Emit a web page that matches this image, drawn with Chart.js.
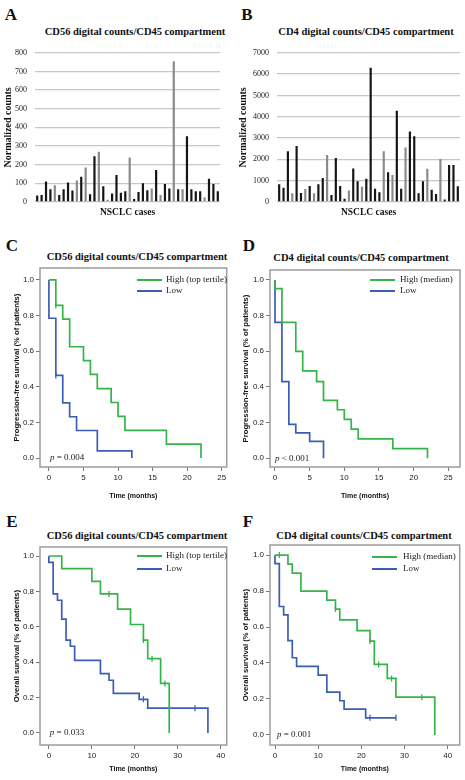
<!DOCTYPE html>
<html>
<head>
<meta charset="utf-8">
<script src="https://cdn.jsdelivr.net/npm/chart.js@4.4.1/dist/chart.umd.min.js"></script>
<style>
  html, body { margin: 0; padding: 0; background: #fff; }
  #fig { position: relative; width: 465px; height: 780px; overflow: hidden; background: #fff; }
  #fig canvas { position: absolute; }
  .lbl { position: absolute; transform: translate(-50%, -50%); white-space: nowrap; line-height: 1;
         color: #111; font-family: "Liberation Serif", "Times New Roman", serif; font-weight: bold; }
  .letter { font-size: 17px; }
  .ttl { font-size: 10.5px; }
</style>
</head>
<body>
<div id="fig">
  <div class="lbl letter" style="left:11px;top:14px">A</div>
  <div class="lbl letter" style="left:247px;top:14px">B</div>
  <div class="lbl letter" style="left:12px;top:245px">C</div>
  <div class="lbl letter" style="left:249px;top:245px">D</div>
  <div class="lbl letter" style="left:12px;top:521px">E</div>
  <div class="lbl letter" style="left:248px;top:521px">F</div>

  <div class="lbl ttl" style="left:135px;top:32px">CD56 digital counts/CD45 compartment</div>
  <div class="lbl ttl" style="left:366px;top:32px">CD4 digital counts/CD45 compartment</div>
  <div class="lbl ttl" style="left:137px;top:257px">CD56 digital counts/CD45 compartment</div>
  <div class="lbl ttl" style="left:361px;top:258px">CD4 digital counts/CD45 compartment</div>
  <div class="lbl ttl" style="left:137px;top:536px">CD56 digital counts/CD45 compartment</div>
  <div class="lbl ttl" style="left:364px;top:536px">CD4 digital counts/CD45 compartment</div>

  <canvas id="chartA" width="230" height="180" style="left:0;top:40px"></canvas>
  <canvas id="chartB" width="233" height="180" style="left:232px;top:40px"></canvas>
  <canvas id="chartC" width="232" height="255" style="left:0;top:248px"></canvas>
  <canvas id="chartD" width="233" height="255" style="left:232px;top:248px"></canvas>
  <canvas id="chartE" width="232" height="254" style="left:0;top:526px"></canvas>
  <canvas id="chartF" width="233" height="254" style="left:232px;top:526px"></canvas>
</div>

<script>
// ---- bar panels (A, B): normalized counts per NSCLC case ----
var caseLabels = [];
for (var i = 1; i <= 42; i++) caseLabels.push('Case ' + i);

var cd56Counts = [35, 38, 110, 68, 90, 38, 68, 105, 62, 115, 135, 185, 42, 245, 270, 85, 12, 45, 145, 50,
                  58, 238, 16, 53, 100, 63, 72, 172, 38, 97, 72, 755, 68, 68, 352, 68, 57, 57, 25, 125, 97, 57];
var cd4Counts = [830, 665, 2380, 415, 2630, 420, 610, 745, 410, 835, 1130, 2210, 325, 2070, 745, 155, 540, 1570, 970, 710,
                 1090, 6300, 625, 455, 2380, 1395, 1265, 4280, 625, 2555, 3310, 3085, 410, 975, 1560, 580, 370, 2020, 115, 1740, 1740, 740];
var cd56Ticks = [0, 100, 200, 300, 400, 500, 600, 700, 800];
var cd4Ticks = [0, 1000, 2000, 3000, 4000, 5000, 6000, 7000];
// bars printed in lighter grey in the original
var cd56GreyBars = [4, 9, 11, 14, 16, 21, 26, 28, 31, 33, 38];
var cd4GreyBars = [3, 6, 8, 11, 16, 19, 24, 26, 29, 34, 37];

// ---- Kaplan-Meier panels: event times (months) and survival fraction ----
var timeTicksPfs = [0, 5, 10, 15, 20, 25];
var timeTicksOs = [0, 10, 20, 30, 40];
var survTicks = [0, 0.2, 0.4, 0.6, 0.8, 1.0];

// C: PFS, CD56
var pfsCd56HighT = [0, 1, 2, 3, 5, 6, 7, 9, 10, 11, 17, 22];
var pfsCd56HighS = [1, 0.857, 0.78, 0.625, 0.547, 0.47, 0.39, 0.312, 0.234, 0.156, 0.078, 0];
var pfsCd56LowT = [0, 0, 1, 2, 3, 4, 7, 12];
var pfsCd56LowS = [1, 0.785, 0.464, 0.31, 0.232, 0.155, 0.04, 0];
var pfsCd56HighCensT = [1], pfsCd56HighCensS = [0.857];
var pfsCd56LowCensT = [1], pfsCd56LowCensS = [0.464];

// D: PFS, CD4
var pfsCd4HighT = [0, 0, 1, 3, 4, 6, 7, 9, 10, 11, 12, 17, 22];
var pfsCd4HighS = [1, 0.952, 0.762, 0.6, 0.49, 0.43, 0.325, 0.272, 0.218, 0.163, 0.109, 0.054, 0];
var pfsCd4LowT = [0, 0, 1, 2, 3, 5, 7];
var pfsCd4LowS = [1, 0.762, 0.43, 0.19, 0.142, 0.095, 0];

// E: OS, CD56
var osCd56HighT = [0, 3, 10, 12, 16, 19, 22, 23, 26, 28];
var osCd56HighS = [1, 0.929, 0.857, 0.786, 0.7, 0.613, 0.525, 0.42, 0.28, 0];
var osCd56LowT = [0, 0, 1, 2, 3, 4, 5, 6, 12, 14, 15, 21, 23, 37];
var osCd56LowS = [1, 0.964, 0.786, 0.75, 0.643, 0.525, 0.49, 0.41, 0.335, 0.298, 0.224, 0.19, 0.14, 0];
var osCd56HighCensT = [14, 22, 24, 27], osCd56HighCensS = [0.786, 0.525, 0.42, 0.28];
var osCd56LowCensT = [22, 34], osCd56LowCensS = [0.19, 0.14];

// F: OS, CD4
var osCd4HighT = [0, 3, 4, 6, 12, 14, 15, 19, 22, 23, 26, 28, 37];
var osCd4HighS = [1, 0.95, 0.9, 0.8, 0.75, 0.7, 0.64, 0.58, 0.522, 0.392, 0.314, 0.21, 0];
var osCd4LowT = [0, 0, 1, 2, 3, 4, 5, 10, 12, 15, 16, 21, 28];
var osCd4LowS = [1, 0.952, 0.714, 0.667, 0.524, 0.429, 0.381, 0.333, 0.238, 0.19, 0.143, 0.095, 0.095];
var osCd4HighCensT = [1, 14, 22, 24, 27, 34], osCd4HighCensS = [1, 0.7, 0.522, 0.392, 0.314, 0.21];
var osCd4LowCensT = [22, 28], osCd4LowCensS = [0.095, 0.095];

// ---- styles ----
var SERIF = '"Liberation Serif", "Times New Roman", serif';
var SANS = '"Liberation Sans Narrow", "Liberation Sans", Arial, sans-serif';
var GREEN = '#35b44a';
var BLUE = '#3c5db4';
var DARK_BAR = '#151515';
var GREY_BAR = '#8a8a8a';

function pts(t, s) {
    return t.map(function(v, i) { return { x: v, y: s[i] }; });
}

function barChart(id, values, greyBars, ticks, yWidth, padRight, yTitlePad) {
    new Chart(document.getElementById(id), {
        type: 'bar',
        data: {
            labels: caseLabels,
            datasets: [{
                label: 'Normalized counts',
                data: values,
                backgroundColor: values.map(function(v, i) { return greyBars.indexOf(i) >= 0 ? GREY_BAR : DARK_BAR; }),
                barPercentage: 0.5,
                categoryPercentage: 1
            }]
        },
        options: {
            responsive: false,
            animation: false,
            layout: { padding: { top: 12, right: padRight, left: 0, bottom: 0 } },
            plugins: { legend: { display: false }, tooltip: { enabled: false } },
            scales: {
                x: {
                    grid: { display: false },
                    border: { display: false },
                    ticks: { display: false },
                    title: { display: true, text: 'NSCLC cases', color: '#111',
                             font: { family: SERIF, size: 9.5, weight: 'bold' }, padding: { top: 0, bottom: 2 } },
                    afterFit: function(s) { s.height = 18; }
                },
                y: {
                    min: ticks[0],
                    max: ticks[ticks.length - 1],
                    afterBuildTicks: function(s) { s.ticks = ticks.map(function(v) { return { value: v }; }); },
                    ticks: { color: '#222', font: { family: SERIF, size: 8 }, padding: 8,
                             callback: function(v) { return String(v); } },
                    grid: { color: '#c6c6c6', lineWidth: 1.3, drawTicks: false },
                    border: { display: false },
                    title: { display: true, text: 'Normalized counts', color: '#111',
                             font: { family: SERIF, size: 10, weight: 'bold' }, padding: { top: yTitlePad, bottom: 0 } },
                    afterFit: function(s) { s.width = yWidth; }
                }
            }
        }
    });
}

function kmChart(id, p) {
    var decor = {
        id: 'kmDecor',
        afterDatasetsDraw: function(chart) {
            var ctx = chart.ctx, a = chart.chartArea;
            ctx.save();
            ctx.strokeStyle = '#9c9c9c';
            ctx.lineWidth = 1.5;
            ctx.strokeRect(a.left, a.top, a.right - a.left, a.bottom - a.top);

            // legend
            ctx.font = '9px ' + SERIF;
            ctx.textBaseline = 'middle';
            [[p.highLabel, GREEN], ['Low', BLUE]].forEach(function(item, i) {
                var y = p.legY + i * p.legGap;
                ctx.strokeStyle = item[1];
                ctx.lineWidth = 2;
                ctx.beginPath();
                ctx.moveTo(p.legX, y);
                ctx.lineTo(p.legX + 25, y);
                ctx.stroke();
                ctx.fillStyle = '#222';
                ctx.fillText(item[0], p.legX + p.legText, y);
            });

            // p value
            var px = chart.scales.x.getPixelForValue(0) + p.pDx;
            var py = chart.scales.y.getPixelForValue(0);
            ctx.fillStyle = '#222';
            ctx.font = 'italic 9px ' + SERIF;
            ctx.fillText('p', px, py);
            var w = ctx.measureText('p').width;
            ctx.font = '9px ' + SERIF;
            ctx.fillText(' ' + p.pText, px + w, py);
            ctx.restore();
        }
    };

    var datasets = [
        { label: p.highLabel, data: pts(p.highT, p.highS), borderColor: GREEN, borderWidth: 1.7,
          stepped: true, pointRadius: 0, fill: false },
        { label: 'Low', data: pts(p.lowT, p.lowS), borderColor: BLUE, borderWidth: 1.7,
          stepped: true, pointRadius: 0, fill: false }
    ];
    if (p.highCT) {
        datasets.push({ type: 'scatter', label: 'censored high', data: pts(p.highCT, p.highCS), showLine: false,
                        pointStyle: 'line', rotation: 90, pointRadius: 3, borderColor: GREEN, borderWidth: 1.3 });
    }
    if (p.lowCT) {
        datasets.push({ type: 'scatter', label: 'censored low', data: pts(p.lowCT, p.lowCS), showLine: false,
                        pointStyle: 'line', rotation: 90, pointRadius: 3, borderColor: BLUE, borderWidth: 1.3 });
    }

    new Chart(document.getElementById(id), {
        type: 'line',
        data: { datasets: datasets },
        options: {
            responsive: false,
            animation: false,
            layout: { padding: { top: p.padTop, right: p.padRight, left: 0, bottom: 0 } },
            plugins: { legend: { display: false }, tooltip: { enabled: false } },
            scales: {
                x: {
                    type: 'linear',
                    min: p.xMin,
                    max: p.xMax,
                    afterBuildTicks: function(s) { s.ticks = p.xTicks.map(function(v) { return { value: v }; }); },
                    ticks: { color: '#222', font: { family: SANS, size: 8 }, padding: 2, maxRotation: 0 },
                    grid: { drawOnChartArea: false, tickLength: 4, color: '#777' },
                    border: { display: false },
                    title: { display: true, text: 'Time (months)', color: '#111',
                             font: { family: SANS, size: 7, weight: 'bold' }, padding: { top: 0, bottom: p.xTitlePad } },
                    afterFit: function(s) { s.height = p.xHeight; }
                },
                y: {
                    min: p.yMin,
                    max: p.yMax,
                    afterBuildTicks: function(s) { s.ticks = survTicks.map(function(v) { return { value: v }; }); },
                    ticks: { color: '#222', font: { family: SANS, size: 8 }, padding: 2,
                             callback: function(v) { return Number(v).toFixed(1); } },
                    grid: { drawOnChartArea: false, tickLength: 4, color: '#777' },
                    border: { display: false },
                    title: { display: true, text: p.yTitle, color: '#111',
                             font: { family: SANS, size: 7.7, weight: 'bold' }, padding: { top: p.yTitlePad, bottom: 0 } },
                    afterFit: function(s) { s.width = p.yWidth; }
                }
            }
        },
        plugins: [decor]
    });
}

barChart('chartA', cd56Counts, cd56GreyBars, cd56Ticks, 35, 10, 2);
barChart('chartB', cd4Counts, cd4GreyBars, cd4Ticks, 45, 5, 5);

kmChart('chartC', {
    highLabel: 'High (top tertile)', highT: pfsCd56HighT, highS: pfsCd56HighS, lowT: pfsCd56LowT, lowS: pfsCd56LowS,
    highCT: pfsCd56HighCensT, highCS: pfsCd56HighCensS, lowCT: pfsCd56LowCensT, lowCS: pfsCd56LowCensS,
    xTicks: timeTicksPfs, xMin: -1.29, xMax: 25.72, yMin: -0.05, yMax: 1.067,
    yTitle: 'Progression-free survival (% of patients)',
    padTop: 20, padRight: 4, yWidth: 40, xHeight: 36, xTitlePad: 3, yTitlePad: 12,
    legX: 137, legY: 32, legGap: 11, legText: 29, pText: '= 0.004', pDx: 1
});
kmChart('chartD', {
    highLabel: 'High (median)', highT: pfsCd4HighT, highS: pfsCd4HighS, lowT: pfsCd4LowT, lowS: pfsCd4LowS,
    xTicks: timeTicksPfs, xMin: -0.72, xMax: 26.69, yMin: -0.049, yMax: 1.056,
    yTitle: 'Progression-free survival (% of patients)',
    padTop: 22, padRight: 5, yWidth: 38, xHeight: 36, xTitlePad: 3, yTitlePad: 9,
    legX: 138, legY: 32, legGap: 11, legText: 30, pText: '< 0.001', pDx: 0
});
kmChart('chartE', {
    highLabel: 'High (top tertile)', highT: osCd56HighT, highS: osCd56HighS, lowT: osCd56LowT, lowS: osCd56LowS,
    highCT: osCd56HighCensT, highCS: osCd56HighCensS, lowCT: osCd56LowCensT, lowCS: osCd56LowCensS,
    xTicks: timeTicksOs, xMin: -2.06, xMax: 41.37, yMin: -0.068, yMax: 1.051,
    yTitle: 'Overall survival (% of patients)',
    padTop: 21, padRight: 2, yWidth: 40, xHeight: 35, xTitlePad: 7, yTitlePad: 12,
    legX: 137, legY: 30, legGap: 13, legText: 29, pText: '= 0.033', pDx: 1
});
kmChart('chartF', {
    highLabel: 'High (median)', highT: osCd4HighT, highS: osCd4HighS, lowT: osCd4LowT, lowS: osCd4LowS,
    highCT: osCd4HighCensT, highCS: osCd4HighCensS, lowCT: osCd4LowCensT, lowCS: osCd4LowCensS,
    xTicks: timeTicksOs, xMin: -1.16, xMax: 42.77, yMin: -0.056, yMax: 1.056,
    yTitle: 'Overall survival (% of patients)',
    padTop: 19, padRight: 5, yWidth: 38, xHeight: 35, xTitlePad: 7, yTitlePad: 9,
    legX: 140, legY: 31, legGap: 12, legText: 31, pText: '= 0.001', pDx: 2
});
</script>
</body>
</html>
